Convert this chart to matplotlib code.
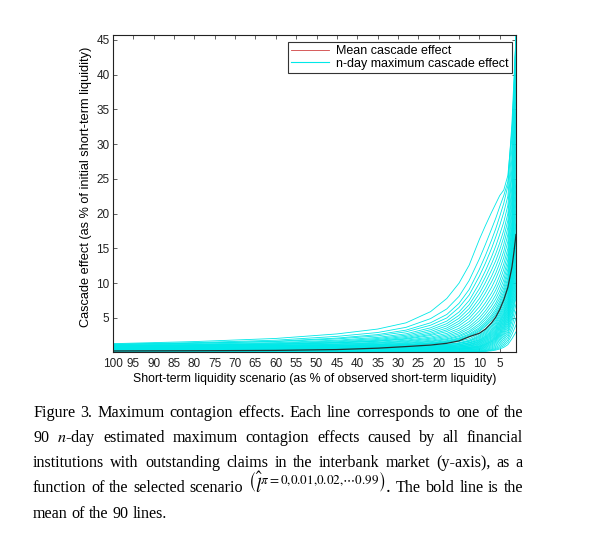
import matplotlib
matplotlib.use("Agg")
import matplotlib.pyplot as plt
from matplotlib.lines import Line2D

# ---------------- data ----------------
scenario = [100, 80, 60, 45, 35, 28, 22, 18, 15, 12.5, 10, 8.5, 7, 6, 5, 4, 3, 2, 1.5, 1]

nday_lines = [
    [1.30, 1.60, 2.05, 2.70, 3.40, 4.30, 5.90, 7.80, 10.0, 12.6, 16.3, 18.3, 20.2, 21.4, 22.6, 23.4, 25.5, 32.0, 38.0, 45.7],
    [1.22, 1.45, 1.80, 2.35, 2.90, 3.65, 4.90, 6.30, 8.10, 10.4, 13.5, 15.6, 17.8, 19.3, 21.0, 22.6, 24.6, 33.0, 39.5, 45.7],
    [1.15, 1.36, 1.65, 2.10, 2.60, 3.25, 4.30, 5.50, 7.10, 9.10, 12.0, 14.0, 16.2, 17.8, 19.6, 21.5, 24.0, 31.0, 38.0, 45.7],
    [1.20, 1.36, 1.60, 1.98, 2.42, 3.00, 3.95, 5.00, 6.50, 8.30, 11.0, 12.9, 15.0, 16.6, 18.3, 20.2, 22.5, 29.5, 36.0, 45.7],
    [1.08, 1.24, 1.45, 1.80, 2.20, 2.72, 3.58, 4.55, 5.85, 7.50, 10.0, 11.8, 13.8, 15.3, 17.0, 18.8, 21.2, 28.0, 35.0, 44.0],
    [1.02, 1.16, 1.36, 1.68, 2.04, 2.52, 3.30, 4.18, 5.38, 6.90, 9.20, 10.9, 12.8, 14.2, 15.8, 17.6, 20.0, 26.5, 33.0, 42.0],
    [0.98, 1.10, 1.28, 1.57, 1.90, 2.34, 3.05, 3.86, 4.95, 6.36, 8.50, 10.1, 11.9, 13.2, 14.8, 16.6, 19.0, 25.5, 31.5, 40.0],
    [0.96, 1.06, 1.22, 1.48, 1.78, 2.18, 2.82, 3.55, 4.55, 5.84, 7.80, 9.30, 11.0, 12.3, 13.8, 15.6, 18.0, 24.0, 30.0, 38.0],
    [0.92, 1.02, 1.16, 1.40, 1.68, 2.04, 2.62, 3.28, 4.20, 5.38, 7.20, 8.60, 10.2, 11.4, 12.9, 14.6, 17.0, 23.0, 28.5, 36.0],
    [1.05, 1.12, 1.23, 1.42, 1.64, 1.95, 2.46, 3.04, 3.86, 4.93, 6.60, 7.90, 9.40, 10.6, 12.0, 13.7, 16.0, 22.0, 27.5, 34.5],
    [0.88, 0.96, 1.08, 1.28, 1.50, 1.80, 2.25, 2.78, 3.50, 4.48, 6.00, 7.20, 8.60, 9.70, 11.1, 12.8, 15.0, 21.0, 26.0, 33.0],
    [0.84, 0.92, 1.03, 1.21, 1.41, 1.68, 2.08, 2.56, 3.21, 4.10, 5.50, 6.62, 7.95, 9.00, 10.3, 12.0, 14.2, 20.0, 25.0, 31.0],
    [0.88, 0.94, 1.03, 1.18, 1.35, 1.58, 1.94, 2.36, 2.93, 3.73, 5.00, 6.05, 7.30, 8.30, 9.60, 11.2, 13.4, 19.0, 24.0, 29.5],
    [0.80, 0.86, 0.95, 1.09, 1.25, 1.46, 1.79, 2.17, 2.70, 3.43, 4.60, 5.58, 6.75, 7.70, 8.90, 10.5, 12.7, 18.2, 23.0, 28.0],
    [0.77, 0.82, 0.90, 1.03, 1.17, 1.36, 1.66, 2.00, 2.47, 3.13, 4.20, 5.12, 6.22, 7.12, 8.30, 9.85, 12.0, 17.5, 22.0, 26.5],
    [0.82, 0.86, 0.92, 1.03, 1.14, 1.30, 1.57, 1.88, 2.31, 2.92, 3.90, 4.78, 5.82, 6.70, 7.80, 9.30, 11.4, 16.8, 21.0, 25.0],
    [0.74, 0.78, 0.84, 0.94, 1.05, 1.20, 1.45, 1.73, 2.12, 2.69, 3.60, 4.42, 5.42, 6.25, 7.35, 8.80, 10.8, 16.0, 20.0, 24.0],
    [0.72, 0.75, 0.81, 0.90, 1.00, 1.14, 1.37, 1.64, 2.01, 2.54, 3.40, 4.18, 5.14, 5.95, 7.00, 8.40, 10.3, 15.5, 19.2, 23.0],
    [0.69, 0.72, 0.77, 0.86, 0.95, 1.08, 1.30, 1.55, 1.89, 2.39, 3.20, 3.95, 4.86, 5.64, 6.65, 8.00, 9.85, 15.0, 18.5, 22.0],
    [0.67, 0.70, 0.75, 0.83, 0.91, 1.04, 1.24, 1.48, 1.81, 2.28, 3.05, 3.77, 4.65, 5.40, 6.38, 7.70, 9.50, 14.5, 17.8, 21.0],
    [0.95, 0.97, 1.00, 1.04, 1.09, 1.15, 1.27, 1.42, 1.63, 2.00, 2.70, 3.35, 4.20, 4.90, 5.95, 7.25, 9.10, 13.8, 17.0, 20.0],
    [0.65, 0.68, 0.72, 0.77, 0.83, 0.91, 1.04, 1.20, 1.43, 1.80, 2.50, 3.15, 3.95, 4.65, 5.65, 6.90, 8.70, 13.2, 16.3, 19.0],
    [0.62, 0.64, 0.68, 0.72, 0.78, 0.85, 0.97, 1.12, 1.34, 1.69, 2.35, 2.97, 3.75, 4.42, 5.40, 6.62, 8.40, 12.8, 15.8, 18.5],
    [0.85, 0.86, 0.88, 0.90, 0.93, 0.98, 1.06, 1.17, 1.34, 1.63, 2.20, 2.80, 3.55, 4.20, 5.15, 6.35, 8.10, 12.3, 15.0, 17.5],
    [0.60, 0.62, 0.64, 0.67, 0.71, 0.77, 0.87, 0.99, 1.18, 1.48, 2.05, 2.62, 3.35, 3.98, 4.90, 6.08, 7.80, 12.0, 14.6, 17.0],
    [0.58, 0.59, 0.61, 0.64, 0.68, 0.73, 0.82, 0.93, 1.10, 1.38, 1.90, 2.45, 3.15, 3.76, 4.65, 5.80, 7.50, 11.5, 14.1, 16.5],
    [0.78, 0.79, 0.80, 0.82, 0.84, 0.88, 0.95, 1.04, 1.18, 1.40, 1.80, 2.32, 3.00, 3.60, 4.48, 5.60, 7.25, 11.2, 13.7, 16.0],
    [0.55, 0.56, 0.58, 0.60, 0.63, 0.67, 0.75, 0.85, 1.00, 1.24, 1.70, 2.20, 2.85, 3.42, 4.28, 5.38, 7.00, 11.0, 13.3, 15.5],
    [0.52, 0.53, 0.55, 0.57, 0.60, 0.64, 0.71, 0.80, 0.94, 1.17, 1.60, 2.08, 2.70, 3.25, 4.08, 5.15, 6.70, 10.6, 12.9, 15.0],
    [0.70, 0.70, 0.71, 0.72, 0.74, 0.76, 0.81, 0.87, 0.97, 1.14, 1.50, 1.96, 2.56, 3.10, 3.90, 4.95, 6.45, 10.2, 12.4, 14.5],
    [0.50, 0.51, 0.52, 0.54, 0.56, 0.59, 0.65, 0.72, 0.84, 1.03, 1.40, 1.84, 2.42, 2.94, 3.72, 4.74, 6.20, 10.0, 12.0, 14.0],
    [0.48, 0.49, 0.50, 0.51, 0.53, 0.56, 0.61, 0.68, 0.79, 0.96, 1.30, 1.72, 2.27, 2.78, 3.54, 4.53, 5.95, 9.60, 11.6, 13.5],
    [0.62, 0.62, 0.63, 0.63, 0.64, 0.66, 0.69, 0.73, 0.80, 0.93, 1.20, 1.60, 2.14, 2.63, 3.37, 4.33, 5.70, 9.20, 11.1, 13.0],
    [0.45, 0.46, 0.46, 0.47, 0.49, 0.51, 0.55, 0.60, 0.68, 0.82, 1.10, 1.48, 1.99, 2.46, 3.18, 4.12, 5.45, 8.80, 10.7, 12.5],
    [0.42, 0.42, 0.43, 0.44, 0.45, 0.47, 0.50, 0.55, 0.62, 0.75, 1.00, 1.36, 1.85, 2.30, 3.00, 3.92, 5.20, 8.50, 10.3, 12.0],
    [0.55, 0.55, 0.55, 0.56, 0.56, 0.57, 0.59, 0.62, 0.67, 0.75, 0.92, 1.26, 1.73, 2.17, 2.84, 3.72, 4.95, 8.00, 9.80, 11.5],
    [0.40, 0.40, 0.41, 0.41, 0.42, 0.44, 0.47, 0.50, 0.56, 0.66, 0.85, 1.17, 1.62, 2.04, 2.68, 3.52, 4.70, 7.60, 9.30, 11.0],
    [0.38, 0.38, 0.38, 0.39, 0.40, 0.41, 0.43, 0.46, 0.51, 0.60, 0.78, 1.08, 1.51, 1.91, 2.52, 3.32, 4.45, 7.20, 8.85, 10.5],
    [0.48, 0.48, 0.48, 0.48, 0.48, 0.49, 0.50, 0.52, 0.55, 0.60, 0.70, 0.98, 1.38, 1.76, 2.34, 3.10, 4.18, 6.80, 8.40, 10.0],
    [0.35, 0.35, 0.35, 0.36, 0.36, 0.37, 0.39, 0.41, 0.45, 0.51, 0.62, 0.88, 1.25, 1.61, 2.15, 2.88, 3.90, 6.30, 7.90, 9.50],
    [0.32, 0.32, 0.32, 0.33, 0.33, 0.34, 0.35, 0.37, 0.40, 0.45, 0.55, 0.78, 1.12, 1.45, 1.95, 2.64, 3.60, 5.90, 7.40, 9.00],
    [0.30, 0.30, 0.30, 0.30, 0.31, 0.31, 0.32, 0.34, 0.36, 0.40, 0.48, 0.68, 0.98, 1.28, 1.74, 2.38, 3.28, 5.40, 6.90, 8.50],
    [0.28, 0.28, 0.28, 0.28, 0.28, 0.29, 0.29, 0.30, 0.32, 0.35, 0.40, 0.57, 0.83, 1.10, 1.52, 2.10, 2.95, 5.00, 6.40, 8.00],
    [0.25, 0.25, 0.25, 0.25, 0.25, 0.26, 0.26, 0.27, 0.28, 0.30, 0.33, 0.47, 0.69, 0.92, 1.29, 1.82, 2.60, 4.50, 5.70, 7.00],
    [0.20, 0.20, 0.20, 0.20, 0.21, 0.21, 0.21, 0.22, 0.23, 0.24, 0.26, 0.37, 0.55, 0.75, 1.06, 1.52, 2.22, 3.80, 4.90, 6.00],
    [0.15, 0.15, 0.15, 0.15, 0.16, 0.16, 0.16, 0.17, 0.18, 0.19, 0.21, 0.30, 0.44, 0.60, 0.86, 1.24, 1.84, 3.20, 4.10, 5.00],
    [0.12, 0.12, 0.12, 0.12, 0.12, 0.13, 0.13, 0.13, 0.14, 0.15, 0.16, 0.23, 0.35, 0.48, 0.69, 1.00, 1.50, 2.60, 3.30, 4.00],
    [0.10, 0.10, 0.10, 0.10, 0.10, 0.10, 0.11, 0.11, 0.11, 0.12, 0.13, 0.18, 0.27, 0.37, 0.53, 0.77, 1.16, 2.00, 2.50, 3.00],
]

mean_line = [0.25, 0.28, 0.33, 0.45, 0.65, 0.88, 1.10, 1.35, 1.70, 2.30, 2.80, 3.40, 4.30, 5.10, 6.20, 7.60, 9.40, 12.3, 14.5, 17.0]

x_ticks = [100, 95, 90, 85, 80, 75, 70, 65, 60, 55, 50, 45, 40, 35, 30, 25, 20, 15, 10, 5]
y_ticks = [5, 10, 15, 20, 25, 30, 35, 40, 45]

legend_labels = ["Mean cascade effect", "n-day maximum cascade effect"]
x_label = "Short-term liquidity scenario (as % of observed short-term liquidity)"
y_label = "Cascade effect (as % of initial short-term liquidity)"

caption_lines = [
    "Figure 3. Maximum contagion effects. Each line corresponds to one of the",
    "90 $n$-day estimated maximum contagion effects caused by all financial",
    "institutions with outstanding claims in the interbank market (y-axis), as a",
    r"function of the selected scenario $\left(\hat{l}^{\pi=0{,}0.01{,}0.02{,}\cdots0.99}\right)$. The bold line is the",
    "mean of the 90 lines.",
]

# ---------------- figure ----------------
plt.rcParams["mathtext.fontset"] = "stix"
SANS = ["Liberation Sans", "DejaVu Sans"]
SERIF = ["Liberation Serif", "DejaVu Serif"]

W, H = 616, 538
fig = plt.figure(figsize=(W / 100, H / 100), dpi=100)
ax = fig.add_axes([113 / W, 1 - 352 / H, (516 - 113) / W, (352 - 35) / H])

for ys in nday_lines:
    ax.plot(scenario, ys, color="#00e8e8", lw=0.6, solid_joinstyle="round")
ax.plot(scenario, mean_line, color="#1e3434", lw=0.9, solid_joinstyle="round")

ax.set_xlim(100, 1)
ax.set_ylim(0.1, 45.7)
ax.set_xticks(x_ticks)
ax.set_xticklabels([str(v) for v in x_ticks], family=SANS, fontsize=8.5)
ax.set_yticks(y_ticks)
ax.set_yticklabels([str(v) for v in y_ticks], family=SANS, fontsize=8.5)
ax.tick_params(direction="in", length=3, width=0.5, top=True, right=True,
               colors="#222222")
ax.tick_params(axis="x", pad=4)
ax.tick_params(axis="y", pad=2.5)
for s in ax.spines.values():
    s.set_linewidth(0.8)
    s.set_color("#222222")

ax.set_xlabel(x_label, family=SANS, fontsize=8.8, labelpad=2.5)
ax.set_ylabel(y_label, family=SANS, fontsize=9.2)
ax.yaxis.set_label_coords(-0.052, 0.52)

handles = [Line2D([], [], color="#d04040", lw=0.6),
           Line2D([], [], color="#00e8e8", lw=0.8)]
leg = ax.legend(handles, legend_labels, loc="upper right",
                bbox_to_anchor=(1 - 4 / 403, 1 - 7 / 317), borderaxespad=0,
                prop={"family": SANS, "size": 9}, fancybox=False,
                framealpha=1, edgecolor="#333333", handlelength=3.0,
                handletextpad=0.6, borderpad=0.25, labelspacing=0.05)
leg.get_frame().set_linewidth(0.8)

# ---------------- caption (justified) ----------------
renderer = fig.canvas.get_renderer()
x0, x1 = 33, 523
baselines = [417, 442, 467, 492, 518]
for i, (line, yb) in enumerate(zip(caption_lines, baselines)):
    words, cur, in_math = [], "", False
    for ch in line:
        if ch == "$":
            in_math = not in_math
        if ch == " " and not in_math:
            words.append(cur)
            cur = ""
        else:
            cur += ch
    words.append(cur)
    texts = []
    for w in words:
        fs = 13.5 if "$" in w and "pi" in w else 11.6
        texts.append(fig.text(0, 1 - yb / H, w, family=SERIF, fontsize=fs,
                              va="baseline", ha="left", color="black"))
    widths = [t.get_window_extent(renderer).width for t in texts]
    justify = i < len(caption_lines) - 1
    if justify:
        gap = ((x1 - x0) - sum(widths)) / (len(words) - 1)
    else:
        gap = 4.0
    pos = x0
    for t, w in zip(texts, widths):
        t.set_x(pos / W)
        pos += w + gap

fig.savefig("out.png", dpi=100, facecolor="white")
